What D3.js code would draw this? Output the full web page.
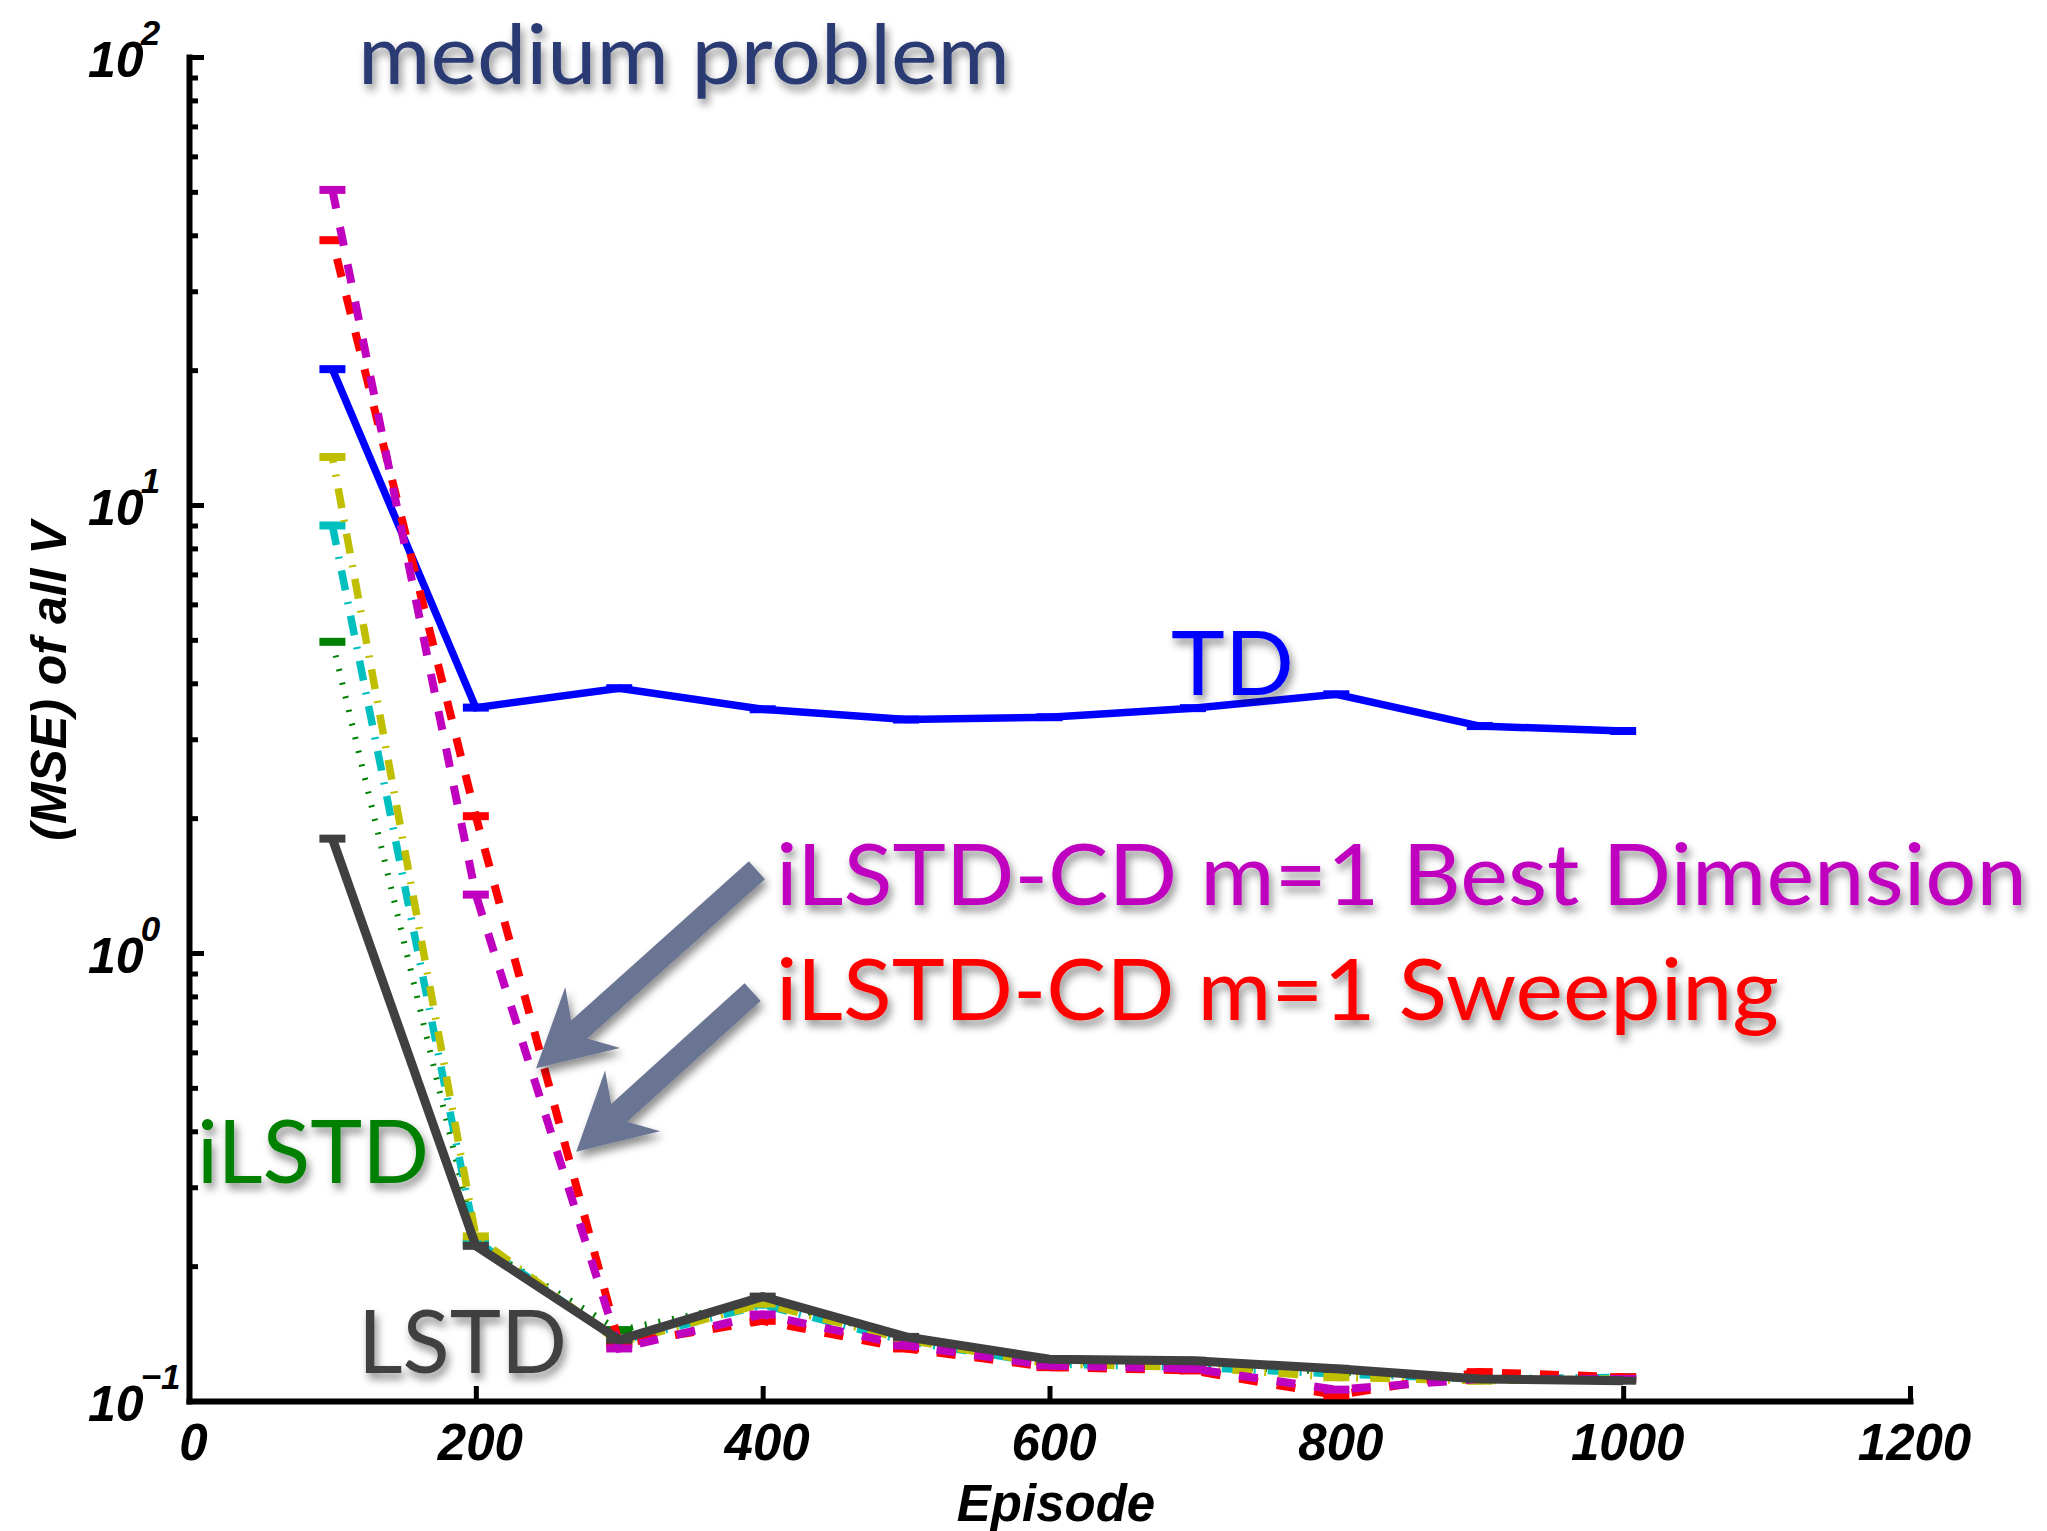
<!DOCTYPE html>
<html>
<head>
<meta charset="utf-8">
<script src="https://cdn.jsdelivr.net/npm/d3@7"></script>
<style>
  html, body { margin: 0; padding: 0; background: #fff; }
  svg { display: block; }
</style>
</head>
<body>
<script>
// Episodes at which every method was evaluated
const episodes = [100, 200, 300, 400, 500, 600, 700, 800, 900, 1000];

// Mean squared error of all V for each method
const tdMse        = [20.1, 3.53, 3.90, 3.50, 3.32, 3.36, 3.52, 3.78, 3.21, 3.13];
const ilstdMse     = [4.95, 0.225, 0.144, 0.168, 0.138, 0.122, 0.120, 0.116, 0.112, 0.112];
const cyanMse      = [9.0, 0.228, 0.136, 0.164, 0.136, 0.121, 0.119, 0.115, 0.112, 0.113];
const yellowMse    = [12.8, 0.233, 0.135, 0.165, 0.137, 0.121, 0.119, 0.113, 0.111, 0.112];
const sweepingMse  = [39.0, 2.02, 0.134, 0.151, 0.131, 0.119, 0.117, 0.103, 0.116, 0.113];
const bestDimMse   = [50.5, 1.35, 0.131, 0.156, 0.133, 0.120, 0.118, 0.106, 0.112, 0.112];
const lstdMse      = [1.80, 0.222, 0.137, 0.171, 0.139, 0.124, 0.123, 0.118, 0.112, 0.111];

// Axis ticks
const xTickValues = [0, 200, 400, 600, 800, 1000, 1200];
const yDecades = [0.1, 1, 10, 100];
const yDecadeExponents = ["\u22121", "0", "1", "2"];

const W = 2047, H = 1531;
const svg = d3.select("body").append("svg").attr("width", W).attr("height", H);

const defs = svg.append("defs");
defs.append("filter").attr("id", "shadow")
  .attr("x", "-20%").attr("y", "-30%").attr("width", "140%").attr("height", "170%")
  .append("feDropShadow")
  .attr("dx", 3).attr("dy", 6).attr("stdDeviation", 4)
  .attr("flood-color", "#000").attr("flood-opacity", 0.45);

const x = d3.scaleLinear().domain([0, 1200]).range([189, 1910]);
const y = d3.scaleLog().domain([0.1, 100]).range([1401, 57]);

// ---- axes ----
const xAxis = d3.axisBottom(x)
  .tickValues(xTickValues)
  .tickSizeInner(-15).tickSizeOuter(0)
  .tickPadding(23)
  .tickFormat(d3.format("d"));

const gx = svg.append("g").attr("transform", `translate(0,${y(0.1)})`).call(xAxis);
gx.select(".domain").attr("stroke-width", 6).attr("stroke-linecap", "square");
gx.selectAll(".tick line").attr("stroke-width", 5);
gx.selectAll(".tick text")
  .attr("font-family", "'Liberation Sans', Arial, sans-serif")
  .attr("font-weight", "bold").attr("font-style", "italic")
  .attr("font-size", 51).attr("fill", "#000")
  .attr("dx", 4);

const minorTicks = [];
[0.1, 1, 10].forEach(d => { for (let k = 2; k <= 9; k++) minorTicks.push(d * k); });

const gyMinor = svg.append("g").attr("transform", `translate(${x(0)},0)`)
  .call(d3.axisLeft(y).tickValues(minorTicks).tickSizeInner(-9).tickSizeOuter(0).tickFormat(""));
gyMinor.select(".domain").remove();
gyMinor.selectAll(".tick line").attr("stroke-width", 5);

const gy = svg.append("g").attr("transform", `translate(${x(0)},0)`)
  .call(d3.axisLeft(y).tickValues(yDecades).tickSizeInner(-15).tickSizeOuter(0).tickFormat(""));
gy.select(".domain").attr("stroke-width", 6).attr("stroke-linecap", "square");
gy.selectAll(".tick line").attr("stroke-width", 5);

// decade labels with superscript exponents
const yLab = svg.append("g")
  .attr("font-family", "'Liberation Sans', Arial, sans-serif")
  .attr("font-weight", "bold").attr("font-style", "italic").attr("fill", "#000");
yDecades.forEach((d, i) => {
  const t = yLab.append("text").attr("x", 88).attr("y", y(d) + 20).attr("font-size", 50);
  t.append("tspan").text("10");
  t.append("tspan").attr("dx", -3).attr("dy", -32).attr("font-size", 35).text(yDecadeExponents[i]);
});

// axis titles
svg.append("text")
  .attr("x", 1056).attr("y", 1521)
  .attr("text-anchor", "middle")
  .attr("font-family", "'Liberation Sans', Arial, sans-serif")
  .attr("font-weight", "bold").attr("font-style", "italic")
  .attr("font-size", 51).text("Episode");

svg.append("text")
  .attr("transform", "translate(66,681) rotate(-90)")
  .attr("text-anchor", "middle")
  .attr("font-family", "'Liberation Sans', Arial, sans-serif")
  .attr("font-weight", "bold").attr("font-style", "italic")
  .attr("font-size", 50).text("(MSE) of all V");

// ---- series ----
const series = [
  { name: "TD", values: tdMse, color: "#0000ff", width: 7.5, dash: null },
  { name: "iLSTD", values: ilstdMse, color: "#008000", width: 6, dash: "2,12" },
  { name: "iLSTD variant (cyan)", values: cyanMse, color: "#00bfbf", width: 7.5, dash: "20,12,2,12" },
  { name: "iLSTD variant (olive)", values: yellowMse, color: "#bfbf00", width: 7.5, dash: "20,12,2,12", offset: 14 },
  { name: "iLSTD-CD m=1 Sweeping", values: sweepingMse, color: "#ff0000", width: 8, dash: "19,19", offset: 19 },
  { name: "iLSTD-CD m=1 Best Dimension", values: bestDimMse, color: "#bf00bf", width: 8, dash: "19,19" },
  { name: "LSTD", values: lstdMse, color: "#404040", width: 9, dash: null }
];

const line = d3.line().x(d => x(d.ep)).y(d => y(d.v));

series.forEach(s => {
  const pts = episodes.map((ep, i) => ({ ep, v: s.values[i] }));
  const g = svg.append("g").attr("class", "series");
  g.append("path")
    .datum(pts)
    .attr("d", line)
    .attr("fill", "none")
    .attr("stroke", s.color)
    .attr("stroke-width", s.width)
    .attr("stroke-dasharray", s.dash)
    .attr("stroke-dashoffset", s.offset || 0)
    .attr("stroke-linejoin", "miter");
  // short horizontal caps at each evaluation point
  g.selectAll("line.cap").data(pts).join("line")
    .attr("class", "cap")
    .attr("x1", d => x(d.ep) - 13).attr("x2", d => x(d.ep) + 13)
    .attr("y1", d => y(d.v)).attr("y2", d => y(d.v))
    .attr("stroke", s.color).attr("stroke-width", 8);
});

// ---- annotations ----
const arrows = [
  { tail: [396, 1.53], tip: [242, 0.553] },
  { tail: [393, 0.818], tip: [270, 0.36] }
];
function arrowPath(tail, tip) {
  const x0 = x(tail[0]), y0 = y(tail[1]), x1 = x(tip[0]), y1 = y(tip[1]);
  const L = Math.hypot(x1 - x0, y1 - y0);
  const ux = (x1 - x0) / L, uy = (y1 - y0) / L;
  const vx = -uy, vy = ux;
  const P = (a, b) => [x0 + ux * a + vx * b, y0 + uy * a + vy * b];
  const pts = [P(0, -12), P(L - 58, -12), P(L - 76, -41), P(L, 0), P(L - 76, 41), P(L - 58, 12), P(0, 12)];
  return "M" + pts.map(p => p[0].toFixed(1) + "," + p[1].toFixed(1)).join("L") + "Z";
}
svg.append("g").attr("filter", "url(#shadow)")
  .selectAll("path").data(arrows).join("path")
  .attr("d", d => arrowPath(d.tail, d.tip))
  .attr("fill", "#6b7594");

const labels = [
  { text: "medium problem", x: 358, y: 84, size: 84, len: 652, color: "#2b3a73" },
  { text: "TD", x: 1171, y: 695, size: 90, len: 123, color: "#0000ff" },
  { text: "iLSTD-CD m=1 Best Dimension", x: 776, y: 905, size: 86, len: 1251, color: "#bf00bf" },
  { text: "iLSTD-CD m=1 Sweeping", x: 776, y: 1020, size: 86, len: 1003, color: "#ff0000" },
  { text: "iLSTD", x: 197, y: 1183, size: 87, len: 232, color: "#008000" },
  { text: "LSTD", x: 358, y: 1373, size: 87, len: 209, color: "#404040" }
];
svg.append("g").attr("filter", "url(#shadow)")
  .selectAll("text").data(labels).join("text")
  .attr("x", d => d.x).attr("y", d => d.y)
  .attr("font-family", "Lato, 'Open Sans', sans-serif")
  .attr("font-size", d => d.size)
  .attr("textLength", d => d.len)
  .attr("lengthAdjust", "spacingAndGlyphs")
  .attr("fill", d => d.color)
  .text(d => d.text);
</script>
</body>
</html>
